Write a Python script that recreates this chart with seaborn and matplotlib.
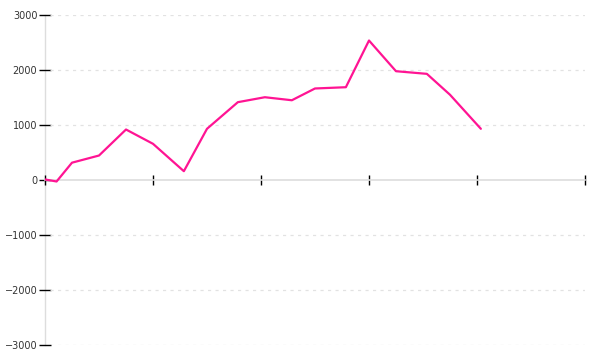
import matplotlib
matplotlib.use("Agg")
import matplotlib.pyplot as plt
import seaborn as sns
import pandas as pd

# data: x in days from start, y values
days = [0, 3, 7, 14, 21, 28, 36, 42, 50, 57, 64, 70, 78, 84, 91, 99, 105, 113]
values = [10, -27, 315, 445, 918, 658, 160, 931, 1415, 1505, 1450, 1664, 1687, 2536, 1978, 1930, 1550, 931]
x_ticks = [0, 28, 56, 84, 112, 140]
y_ticks = [-3000, -2000, -1000, 0, 1000, 2000, 3000]
y_tick_labels = ["\u22123000", "\u22122000", "\u22121000", "0", "1000", "2000", "3000"]

sns.set_style("white")
plt.rcParams['font.family'] = ['DejaVu Sans']

df = pd.DataFrame({"day": days, "value": values})

fig = plt.figure(figsize=(6, 3.6), dpi=100)
ax = fig.add_axes([45/600, 1-345/360, 540/600, 330/360])

sns.lineplot(data=df, x="day", y="value", ax=ax, color="#ff1493", linewidth=1.6, zorder=3)

ax.set_xlim(0, 140)
ax.set_ylim(-3000, 3000)
ax.set_xlabel("")
ax.set_ylabel("")

# grid lines
for yv in y_ticks:
    if yv != 0:
        ax.axhline(yv, color="#e2e2e2", linewidth=0.9, linestyle=(0, (2.5, 3.5)), zorder=1,
                   xmin=0.01, xmax=1.0)

for s in ["top", "right"]:
    ax.spines[s].set_visible(False)
ax.spines["left"].set_color("#dddddd")
ax.spines["left"].set_linewidth(1.0)
ax.spines["left"].set_zorder(0.5)
ax.spines["bottom"].set_position(("data", 0))
ax.spines["bottom"].set_color("#dddddd")
ax.spines["bottom"].set_linewidth(1.2)
ax.spines["bottom"].set_zorder(0.6)

ax.set_xticks(x_ticks)
ax.set_xticklabels([])
ax.tick_params(axis="x", direction="inout", length=7, width=1, color="black", bottom=True)

ax.set_yticks(y_ticks)
ax.set_yticklabels(y_tick_labels)
ax.tick_params(axis="y", direction="inout", length=9, width=1, color="black", left=True,
               labelsize=7, labelcolor="#333333", pad=1)

for t in ax.xaxis.get_major_ticks():
    t.tick1line.set_clip_on(False)

fig.savefig("out.png", dpi=100)
